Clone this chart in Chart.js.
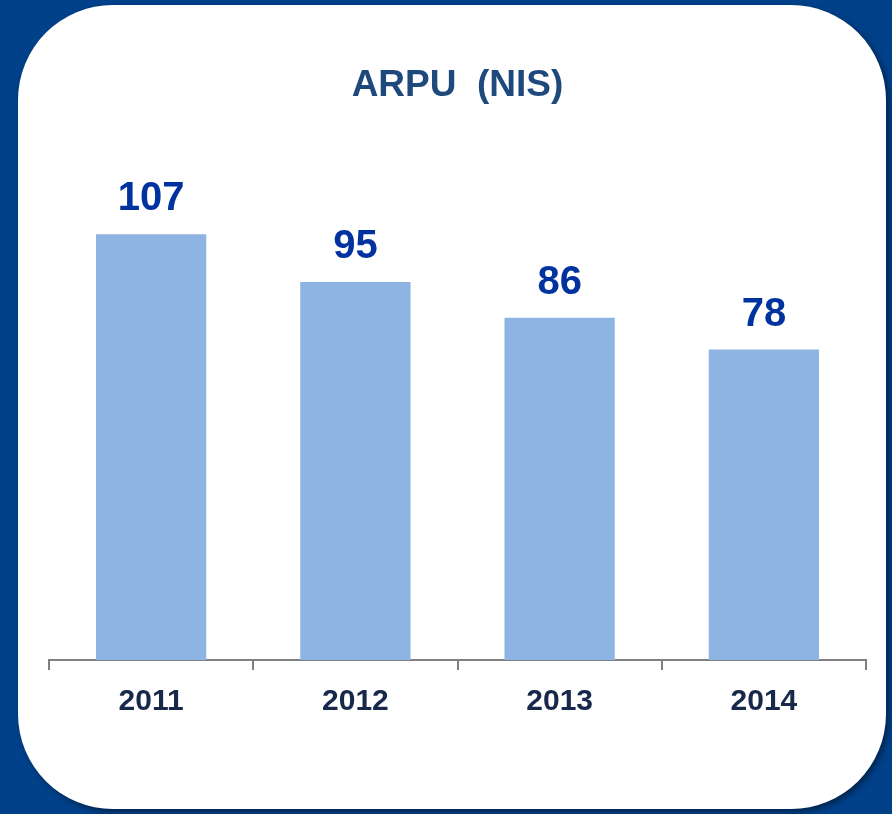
<!DOCTYPE html>
<html>
<head>
<meta charset="utf-8">
<script src="https://cdn.jsdelivr.net/npm/chart.js@4"></script>
<style>
  html, body { margin: 0; padding: 0; background: #00418A; }
  #wrap { width: 892px; height: 814px; }
</style>
</head>
<body>
<div id="wrap"><canvas id="arpu"></canvas></div>
<script>
var years = ["2011", "2012", "2013", "2014"];
var arpu = [107, 95, 86, 78];
var titleText = "ARPU  (NIS)";

//background card behind the chart
var cardBackground = {
  id: "cardBackground",
  beforeDraw: function (chart) {
    var ctx = chart.ctx;
    ctx.save();
    ctx.fillStyle = "#00418A";
    ctx.fillRect(0, 0, chart.width, chart.height);
    ctx.shadowColor = "rgba(0,0,0,0.45)";
    ctx.shadowBlur = 6;
    ctx.shadowOffsetX = 3;
    ctx.shadowOffsetY = 3;
    ctx.fillStyle = "#ffffff";
    ctx.beginPath();
    ctx.roundRect(18, 5, 868, 804, 95);
    ctx.fill();
    ctx.restore();
  },
};

//value labels above bars
var barValues = {
  id: "barValues",
  afterDatasetsDraw: function (chart) {
    var ctx = chart.ctx;
    var meta = chart.getDatasetMeta(0);
    ctx.save();
    ctx.font = "bold 40px 'Liberation Sans', Arial, sans-serif";
    ctx.fillStyle = "#0033A0";
    ctx.textAlign = "center";
    ctx.textBaseline = "middle";
    meta.data.forEach(function (bar, i) {
      ctx.fillText(chart.data.datasets[0].data[i], bar.x, bar.y - 35);
    });
    ctx.restore();
  },
};

new Chart(document.getElementById("arpu"), {
  type: "bar",
  data: {
    labels: years,
    datasets: [
      {
        label: "ARPU",
        data: arpu,
        backgroundColor: "#8EB4E3",
        borderWidth: 0,
        categoryPercentage: 1,
        barPercentage: 0.54,
      },
    ],
  },
  options: {
    responsive: true,
    maintainAspectRatio: false,
    animation: false,
    layout: {
      padding: { top: 64, left: 49, right: 26, bottom: 80 },
    },
    plugins: {
      legend: { display: false },
      tooltip: { enabled: false },
      title: {
        display: true,
        text: titleText,
        color: "#1F497D",
        font: { family: "'Liberation Sans', Arial, sans-serif", size: 37, weight: "bold" },
        padding: { top: 0, bottom: 74 },
      },
    },
    scales: {
      x: {
        offset: true,
        grid: {
          display: true,
          offset: true,
          drawOnChartArea: false,
          drawTicks: true,
          tickLength: 10,
          color: "#808080",
          lineWidth: 2,
        },
        border: { display: true, color: "#808080", width: 2 },
        ticks: {
          color: "#17284A",
          padding: 14,
          font: { family: "'Liberation Sans', Arial, sans-serif", size: 30, weight: "bold" },
        },
      },
      y: {
        display: false,
        min: 0,
        max: 120,
      },
    },
  },
  plugins: [cardBackground, barValues],
});
</script>
</body>
</html>
